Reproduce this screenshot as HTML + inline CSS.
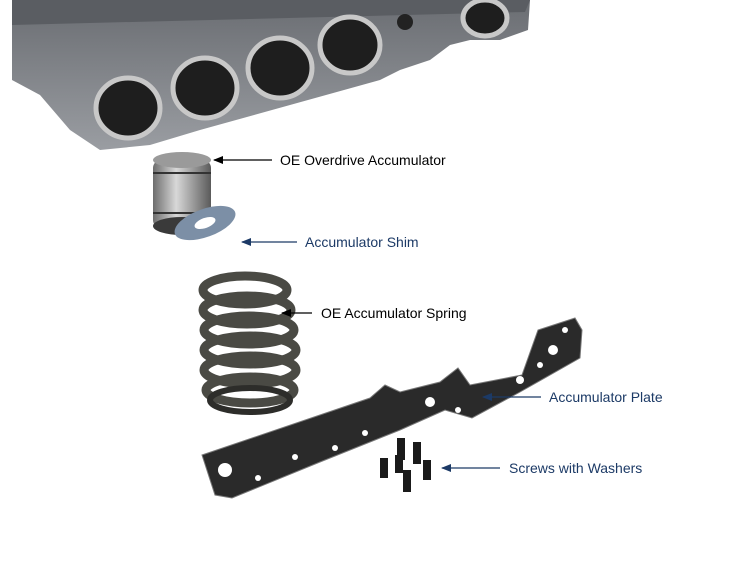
<!DOCTYPE html>
<html><head><meta charset="utf-8"><style>
html,body{margin:0;padding:0;background:#fff;}
svg{display:block;}
text{font-family:"Liberation Sans",sans-serif;font-size:14px;}
</style></head><body>
<svg width="750" height="580" viewBox="0 0 750 580" xmlns="http://www.w3.org/2000/svg">
<defs>
<marker id="ak" markerWidth="10" markerHeight="8" refX="9" refY="4" orient="auto" markerUnits="userSpaceOnUse"><path d="M0,0 L10,4 L0,8 z" fill="#000"/></marker>
<marker id="ab" markerWidth="10" markerHeight="8" refX="9" refY="4" orient="auto" markerUnits="userSpaceOnUse"><path d="M0,0 L10,4 L0,8 z" fill="#1c3a66"/></marker>
<linearGradient id="cyl" x1="0" x2="1"><stop offset="0" stop-color="#6d6d6d"/><stop offset="0.4" stop-color="#d8d8d8"/><stop offset="1" stop-color="#5a5a5a"/></linearGradient>
<linearGradient id="vb" x1="0" y1="0" x2="0" y2="1"><stop offset="0" stop-color="#6a6d72"/><stop offset="1" stop-color="#9a9da2"/></linearGradient>
</defs>
<path d="M12,0 L530,0 L528,30 L500,40 L470,40 L450,45 L430,60 L400,70 L380,80 L200,130 L150,145 L100,150 L70,130 L40,95 L12,80 Z" fill="url(#vb)"/>
<path d="M12,0 L530,0 L525,12 L12,25 Z" fill="#5a5d62"/>
<g fill="#1e1e1e" stroke="#c8c8c8" stroke-width="5">
<ellipse cx="128" cy="108" rx="32" ry="30"/>
<ellipse cx="205" cy="88" rx="32" ry="30"/>
<ellipse cx="280" cy="68" rx="32" ry="30"/>
<ellipse cx="350" cy="45" rx="30" ry="28"/>
<ellipse cx="485" cy="18" rx="22" ry="18"/>
</g>
<circle cx="405" cy="22" r="8" fill="#222"/>
<rect x="153" y="160" width="58" height="68" rx="8" fill="url(#cyl)"/>
<ellipse cx="182" cy="160" rx="29" ry="8" fill="#9a9a9a"/>
<ellipse cx="182" cy="226" rx="29" ry="9" fill="#3a3a3a"/>
<line x1="153" y1="173" x2="211" y2="173" stroke="#333" stroke-width="2"/>
<line x1="153" y1="213" x2="211" y2="213" stroke="#333" stroke-width="2"/>
<ellipse cx="205" cy="223" rx="32" ry="14" transform="rotate(-20 205 223)" fill="#7c8fa6"/>
<ellipse cx="205" cy="223" rx="11" ry="5" transform="rotate(-20 205 223)" fill="#fff"/>
<g fill="none" stroke="#4a4a44" stroke-width="9">
<ellipse cx="245" cy="290" rx="42" ry="14"/>
<ellipse cx="247" cy="310" rx="44" ry="14"/>
<ellipse cx="249" cy="330" rx="45" ry="14"/>
<ellipse cx="250" cy="350" rx="46" ry="14"/>
<ellipse cx="250" cy="370" rx="46" ry="14"/>
<ellipse cx="250" cy="390" rx="44" ry="13"/>
</g>
<ellipse cx="250" cy="400" rx="40" ry="12" fill="none" stroke="#2d2d2a" stroke-width="6"/>
<path d="M202,455 L370,398 L385,385 L400,392 L440,382 L458,368 L470,385 L522,375 L538,330 L575,318 L582,330 L580,358 L520,392 L472,418 L445,410 L400,430 L320,462 L232,498 L215,495 Z" fill="#2a2a2a" stroke="#777" stroke-width="1"/>
<g fill="#fff">
<circle cx="225" cy="470" r="7"/><circle cx="258" cy="478" r="3"/><circle cx="295" cy="457" r="3"/>
<circle cx="335" cy="448" r="3"/><circle cx="365" cy="433" r="3"/><circle cx="430" cy="402" r="5"/>
<circle cx="458" cy="410" r="3"/><circle cx="520" cy="380" r="4"/><circle cx="553" cy="350" r="5"/>
<circle cx="565" cy="330" r="3"/><circle cx="540" cy="365" r="3"/>
</g>
<g fill="#1a1a1a">
<rect x="397" y="438" width="8" height="22"/><rect x="413" y="442" width="8" height="22"/>
<rect x="380" y="458" width="8" height="20"/><rect x="423" y="460" width="8" height="20"/>
<rect x="403" y="470" width="8" height="22"/><rect x="395" y="455" width="8" height="18"/>
</g>
<g stroke-width="1.3">
<line x1="272" y1="160" x2="214" y2="160" stroke="#000" marker-end="url(#ak)"/>
<line x1="297" y1="242" x2="242" y2="242" stroke="#1c3a66" marker-end="url(#ab)"/>
<line x1="312" y1="313" x2="282" y2="313" stroke="#000" marker-end="url(#ak)"/>
<line x1="541" y1="397" x2="483" y2="397" stroke="#1c3a66" marker-end="url(#ab)"/>
<line x1="500" y1="468" x2="442" y2="468" stroke="#1c3a66" marker-end="url(#ab)"/>
</g>
<text x="280" y="165" fill="#000">OE Overdrive Accumulator</text>
<text x="305" y="247" fill="#1c3a66">Accumulator Shim</text>
<text x="321" y="318" fill="#000">OE Accumulator Spring</text>
<text x="549" y="402" fill="#1c3a66">Accumulator Plate</text>
<text x="509" y="473" fill="#1c3a66">Screws with Washers</text>
</svg>
</body></html>
